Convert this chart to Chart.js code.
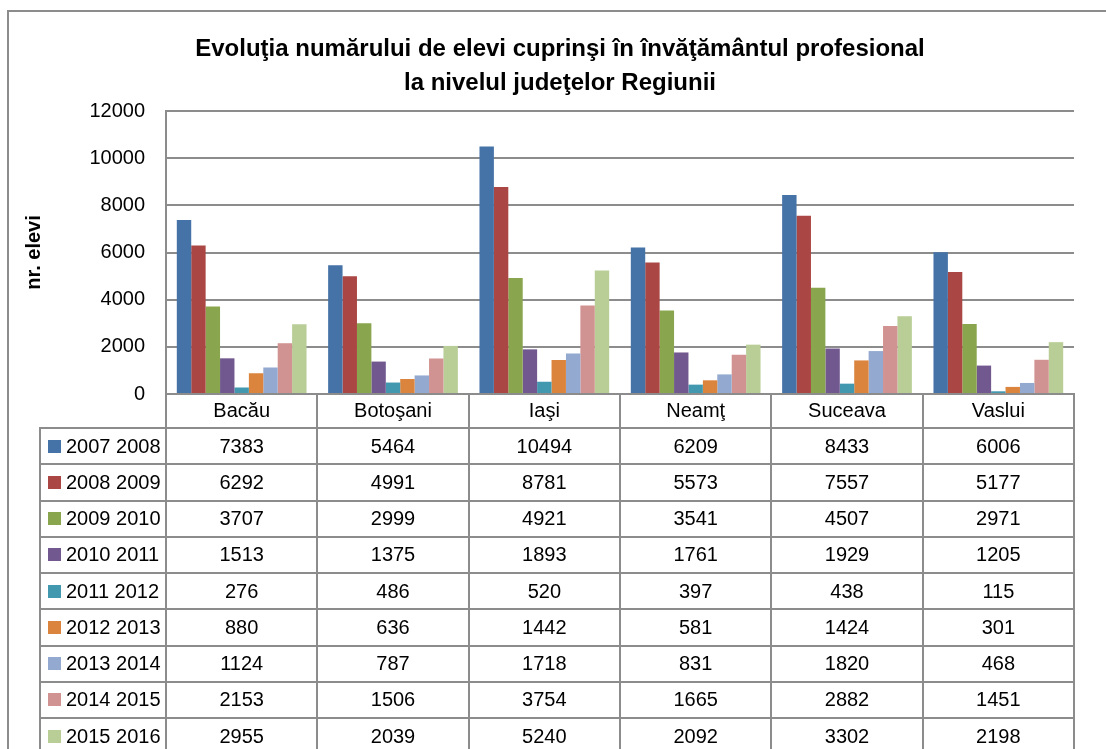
<!DOCTYPE html>
<html lang="ro">
<head>
<meta charset="utf-8">
<title>Evoluţia numărului de elevi cuprinşi în învăţământul profesional</title>
<script src="https://cdn.jsdelivr.net/npm/chart.js@4.4.1/dist/chart.umd.min.js"></script>
<style>
  html, body { margin: 0; padding: 0; background: #fff; overflow: hidden; }
  #wrap { position: absolute; left: 0; top: 0; width: 1120px; height: 770px; }
</style>
</head>
<body>
<div id="wrap"><canvas id="grafic" width="1120" height="770"></canvas></div>
<script>
// Judeţele regiunii (categorii)
const judete = ['Bacău', 'Botoşani', 'Iaşi', 'Neamţ', 'Suceava', 'Vaslui'];

// Anii şcolari (serii)
const aniScolari = ['2007 2008', '2008 2009', '2009 2010', '2010 2011', '2011 2012',
                    '2012 2013', '2013 2014', '2014 2015', '2015 2016'];

// Număr de elevi pe judeţ, pentru fiecare an şcolar
const elevi2007_2008 = [7383, 5464, 10494, 6209, 8433, 6006];
const elevi2008_2009 = [6292, 4991, 8781, 5573, 7557, 5177];
const elevi2009_2010 = [3707, 2999, 4921, 3541, 4507, 2971];
const elevi2010_2011 = [1513, 1375, 1893, 1761, 1929, 1205];
const elevi2011_2012 = [276, 486, 520, 397, 438, 115];
const elevi2012_2013 = [880, 636, 1442, 581, 1424, 301];
const elevi2013_2014 = [1124, 787, 1718, 831, 1820, 468];
const elevi2014_2015 = [2153, 1506, 3754, 1665, 2882, 1451];
const elevi2015_2016 = [2955, 2039, 5240, 2092, 3302, 2198];

// Valorile axei verticale
const axaMin = 0;
const axaMax = 12000;
const axaPas = 2000;

const serii = [elevi2007_2008, elevi2008_2009, elevi2009_2010, elevi2010_2011, elevi2011_2012,
               elevi2012_2013, elevi2013_2014, elevi2014_2015, elevi2015_2016];
const culori = ['#4572A7', '#AA4643', '#89A54E', '#71588F', '#4198AF',
                '#DB843D', '#93A9CF', '#D19392', '#B9CD96'];

const FONT = "'Liberation Sans', Arial, sans-serif";
const MARIME = 20;
const LINIE = '#8c8c8c';
const INALTIME_ANTET = 34;
const INALTIME_RAND = 36.25;
const LATIME_LEGENDA = 126;

function linie(ctx, x1, y1, x2, y2) {
  ctx.beginPath();
  ctx.moveTo(x1, y1);
  ctx.lineTo(x2, y2);
  ctx.stroke();
}

// Chenarul exterior al graficului
const chenar = {
  id: 'chenar',
  beforeDraw(chart) {
    const ctx = chart.ctx;
    ctx.save();
    ctx.strokeStyle = LINIE;
    ctx.lineWidth = 2;
    ctx.strokeRect(8, 11, chart.width + 50, chart.height + 50);
    ctx.restore();
  }
};

// Tabelul de date de sub axa orizontală, cu legenda pe prima coloană
const tabelDate = {
  id: 'tabelDate',
  afterDraw(chart) {
    const { ctx, chartArea: a, scales: { x } } = chart;
    const n = chart.data.labels.length;
    const latCol = (a.right - a.left) / n;
    const seturi = chart.data.datasets;
    const susRanduri = a.bottom + INALTIME_ANTET;
    const jos = susRanduri + seturi.length * INALTIME_RAND;
    const stangaLegenda = a.left - LATIME_LEGENDA;

    ctx.save();
    ctx.strokeStyle = LINIE;
    ctx.lineWidth = 2;

    // linii verticale între coloane
    for (let i = 0; i <= n; i++) {
      const xx = Math.round(x.getPixelForValue(0) - latCol / 2 + i * latCol);
      linie(ctx, xx, a.bottom, xx, jos);
    }
    linie(ctx, stangaLegenda, susRanduri - 1, stangaLegenda, jos);

    // linii orizontale între rânduri
    for (let r = 0; r <= seturi.length; r++) {
      const yy = Math.round(susRanduri + r * INALTIME_RAND);
      linie(ctx, stangaLegenda - 1, yy, a.right + 1, yy);
    }

    ctx.font = MARIME + 'px ' + FONT;
    ctx.textBaseline = 'middle';

    seturi.forEach((ds, r) => {
      const yc = susRanduri + r * INALTIME_RAND + INALTIME_RAND / 2;
      // cheia legendei
      ctx.fillStyle = ds.backgroundColor;
      ctx.fillRect(stangaLegenda + 8, Math.round(yc - 6.5), 13, 13);
      ctx.fillStyle = '#000';
      ctx.textAlign = 'left';
      ctx.fillText(ds.label, stangaLegenda + 26, yc + 1);
      // valorile
      ctx.textAlign = 'center';
      ds.data.forEach((v, i) => {
        ctx.fillText(String(v), x.getPixelForValue(i), yc + 1);
      });
    });
    ctx.restore();
  }
};

new Chart(document.getElementById('grafic'), {
  type: 'bar',
  data: {
    labels: judete,
    datasets: aniScolari.map((an, k) => ({
      label: an,
      data: serii[k],
      backgroundColor: culori[k],
      borderWidth: 0,
      categoryPercentage: 9 / 10.5,
      barPercentage: 1.0
    }))
  },
  options: {
    responsive: false,
    animation: false,
    devicePixelRatio: 1,
    layout: { padding: { left: 46, right: 46, top: 0, bottom: 0 } },
    plugins: {
      legend: { display: false },
      tooltip: { enabled: false },
      title: {
        display: true,
        text: ['Evoluţia numărului de elevi cuprinşi în învăţământul profesional',
               'la nivelul judeţelor Regiunii'],
        color: '#000',
        font: { family: FONT, size: 24, weight: 'bold', lineHeight: 34 / 24 },
        padding: { top: 32, bottom: 11 }
      }
    },
    scales: {
      x: {
        grid: { display: false, drawTicks: false },
        border: { display: true, color: LINIE, width: 2 },
        ticks: { color: '#000', font: { family: FONT, size: MARIME }, padding: 5, maxRotation: 0 },
        afterFit(s) { s.height = 376; }
      },
      y: {
        min: axaMin,
        max: axaMax,
        ticks: {
          stepSize: axaPas,
          color: '#000',
          font: { family: FONT, size: MARIME },
          padding: 21,
          callback: v => String(v)
        },
        grid: { color: LINIE, lineWidth: 2, drawTicks: false },
        border: { display: true, color: LINIE, width: 2 },
        title: {
          display: true,
          text: 'nr. elevi',
          color: '#000',
          font: { family: FONT, size: 20, weight: 'bold' },
          padding: { top: -24, bottom: 0 }
        },
        afterFit(s) { s.width = 120; }
      }
    }
  },
  plugins: [chenar, tabelDate]
});
</script>
</body>
</html>
